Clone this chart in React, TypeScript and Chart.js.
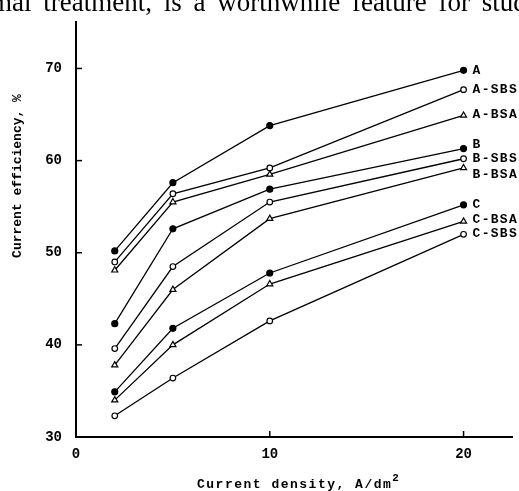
import React, { useEffect, useRef } from "react";
import { Chart, registerables } from "chart.js";

Chart.register(...registerables);

// ---- data ----
const currentDensity = [2, 5, 10, 20];
const seriesNames = ["A", "A-SBS", "A-BSA", "B", "B-SBS", "B-BSA", "C", "C-BSA", "C-SBS"];
const effA = [50.2, 57.6, 63.8, 69.8];
const effASBS = [49.0, 56.4, 59.2, 67.7];
const effABSA = [48.1, 55.5, 58.5, 64.9];
const effB = [42.3, 52.6, 56.9, 61.3];
const effBSBS = [39.6, 48.5, 55.5, 60.2];
const effBBSA = [37.8, 46.0, 53.7, 59.2];
const effC = [34.9, 41.8, 47.8, 55.2];
const effCBSA = [34.0, 40.0, 46.6, 53.4];
const effCSBS = [32.3, 36.4, 42.6, 52.0];
const seriesValues = [effA, effASBS, effABSA, effB, effBSBS, effBBSA, effC, effCBSA, effCSBS];
const xTicks = [0, 10, 20];
const yTicks = [30, 40, 50, 60, 70];
const xTitle = "Current density, A/dm";
const yTitle = "Current efficiency, %";
const topText = "mal treatment, is a worthwhile feature for stud";

// ---- styles ----
const markerKind = (name: string) =>
  name.endsWith("SBS") ? "open" : name.endsWith("BSA") ? "tri" : "filled";
const labelOffsets: Record<string, number> = { B: -4, "B-BSA": 7, "C-BSA": -2, "A-BSA": -1, "C-SBS": -1 };
const MONO = "'Liberation Mono', 'DejaVu Sans Mono', monospace";

const overlayPlugin = {
  id: "overlay",
  afterDraw(chart: any) {
    const ctx = chart.ctx as CanvasRenderingContext2D;
    const xs = chart.scales.x;
    const ys = chart.scales.y;
    const area = chart.chartArea;
    ctx.save();
    ctx.strokeStyle = "#000";
    ctx.fillStyle = "#000";
    ctx.lineWidth = 1.5;
    // inward tick marks
    xTicks.forEach((v) => {
      const px = xs.getPixelForValue(v);
      ctx.beginPath();
      ctx.moveTo(px, area.bottom);
      ctx.lineTo(px, area.bottom - 6);
      ctx.stroke();
    });
    yTicks.forEach((v) => {
      const py = ys.getPixelForValue(v);
      ctx.beginPath();
      ctx.moveTo(area.left, py);
      ctx.lineTo(area.left + 6, py);
      ctx.stroke();
    });
    // end labels
    ctx.font = `bold 13px ${MONO}`;
    (ctx as any).letterSpacing = "1.3px";
    ctx.textAlign = "left";
    ctx.textBaseline = "middle";
    seriesNames.forEach((name, i) => {
      const vals = seriesValues[i];
      const last = vals[vals.length - 1];
      const px = xs.getPixelForValue(currentDensity[currentDensity.length - 1]) + 9;
      const py = ys.getPixelForValue(last) + (labelOffsets[name] || 0);
      ctx.fillText(name, px, py);
    });
    // x title
    (ctx as any).letterSpacing = "1.5px";
    ctx.textBaseline = "alphabetic";
    ctx.font = `bold 13px ${MONO}`;
    const tx = 197;
    ctx.fillText(xTitle, tx, 488);
    const w = ctx.measureText(xTitle).width;
    (ctx as any).letterSpacing = "0px";
    ctx.font = `bold 11px ${MONO}`;
    ctx.fillText("2", tx + w, 481);
    // y title
    ctx.font = `bold 13px ${MONO}`;
    ctx.translate(18, 176);
    ctx.rotate(-Math.PI / 2);
    ctx.textAlign = "center";
    ctx.textBaseline = "middle";
    ctx.fillText(yTitle, 0, 0);
    ctx.restore();
  },
};

export default function App() {
  const ref = useRef<HTMLCanvasElement>(null);
  useEffect(() => {
    if (!ref.current) return;
    const datasets = seriesNames.map((name, i) => {
      const kind = markerKind(name);
      return {
        label: name,
        data: currentDensity.map((x, j) => ({ x, y: seriesValues[i][j] })),
        borderColor: "#000",
        borderWidth: 1.3,
        pointStyle: kind === "tri" ? "triangle" : "circle",
        pointRadius: kind === "tri" ? 3.5 : kind === "filled" ? 3 : 2.8,
        pointBackgroundColor: kind === "filled" ? "#000" : "#fff",
        pointBorderColor: "#000",
        pointBorderWidth: 1.2,
        fill: false,
        tension: 0,
      };
    });
    const chart = new Chart(ref.current, {
      type: "line",
      data: { datasets },
      options: {
        animation: false,
        responsive: false,
        layout: { padding: { top: 5, right: 7, left: 0, bottom: 0 } },
        plugins: { legend: { display: false }, tooltip: { enabled: false } },
        scales: {
          x: {
            type: "linear",
            min: 0,
            max: 22.5,
            grid: { display: false, drawTicks: false, tickLength: 0 },
            border: { display: true, color: "#000", width: 2 },
            ticks: { color: "#000", padding: 9, font: { family: MONO, size: 14, weight: "bold" } },
            afterBuildTicks: (s: any) => {
              s.ticks = xTicks.map((v) => ({ value: v }));
            },
            afterFit: (s: any) => {
              s.height = 54;
            },
          },
          y: {
            type: "linear",
            min: 30,
            max: 75,
            grid: { display: false, drawTicks: false, tickLength: 0 },
            border: { display: true, color: "#000", width: 2 },
            ticks: { color: "#000", padding: 14, font: { family: MONO, size: 14, weight: "bold" } },
            afterBuildTicks: (s: any) => {
              s.ticks = yTicks.map((v) => ({ value: v }));
            },
            afterFit: (s: any) => {
              s.width = 76;
            },
          },
        },
      } as any,
      plugins: [overlayPlugin],
    });
    return () => chart.destroy();
  }, []);
  return (
    <div style={{ position: "absolute", left: 0, top: 0, width: 519, height: 491, overflow: "hidden", background: "#fff" }}>
      <canvas ref={ref} width={519} height={491} style={{ position: "absolute", left: 0, top: 0 }} />
      <div
        style={{
          position: "absolute",
          left: -9,
          top: -11,
          fontFamily: "'Liberation Serif', 'Times New Roman', serif",
          fontSize: 27,
          lineHeight: "27px",
          whiteSpace: "nowrap",
          wordSpacing: 5,
          color: "#000",
        }}
      >
        {topText}
      </div>
    </div>
  );
}
